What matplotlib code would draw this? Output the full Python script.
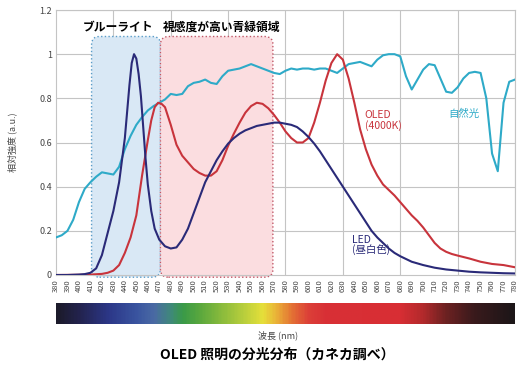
import numpy as np
import matplotlib
matplotlib.use('Agg')
import matplotlib.pyplot as plt
from matplotlib.patches import FancyBboxPatch
from matplotlib.colors import LinearSegmentedColormap

plt.rcParams['font.family'] = ['Noto Sans CJK JP', 'DejaVu Sans']

# natural light (自然光)
sun_nm = list(range(380, 781, 5))
sun_val = [0.17, 0.18, 0.20, 0.25, 0.33, 0.39, 0.42, 0.445, 0.465, 0.46,
           0.455, 0.49, 0.57, 0.63, 0.68, 0.715, 0.745, 0.765, 0.78, 0.795,
           0.82, 0.815, 0.82, 0.855, 0.87, 0.875, 0.885, 0.87, 0.865, 0.90,
           0.925, 0.93, 0.935, 0.945, 0.955, 0.945, 0.935, 0.925, 0.915, 0.91,
           0.925, 0.935, 0.93, 0.935, 0.935, 0.93, 0.935, 0.935, 0.925, 0.915,
           0.935, 0.955, 0.96, 0.965, 0.955, 0.945, 0.975, 0.995, 1.0, 1.0,
           0.99, 0.90, 0.84, 0.885, 0.93, 0.955, 0.95, 0.89, 0.83, 0.825,
           0.85, 0.89, 0.915, 0.92, 0.915, 0.80, 0.55, 0.47, 0.78, 0.875,
           0.885]

# LED (昼白色)
led_nm = [380, 390, 400, 405, 410, 415, 420, 425, 430, 435, 440, 442, 444, 446, 448,
          450, 452, 454, 456, 458, 460, 463, 466, 470, 475, 480, 485, 490, 495, 500,
          505, 510, 515, 520, 525, 530, 535, 540, 545, 550, 555, 560, 565, 570, 575,
          580, 585, 590, 595, 600, 605, 610, 615, 620, 625, 630, 635, 640, 645, 650,
          655, 660, 665, 670, 675, 680, 690, 700, 710, 720, 730, 740, 750, 760, 770, 780]
led_val = [0.0, 0.0, 0.002, 0.004, 0.01, 0.03, 0.09, 0.19, 0.29, 0.42, 0.62, 0.74, 0.86, 0.96, 1.0,
           0.98, 0.91, 0.81, 0.67, 0.53, 0.41, 0.29, 0.21, 0.16, 0.13, 0.12, 0.125, 0.16, 0.21, 0.28,
           0.35, 0.42, 0.47, 0.52, 0.56, 0.595, 0.62, 0.64, 0.655, 0.665, 0.675, 0.68, 0.685, 0.69, 0.69,
           0.685, 0.68, 0.67, 0.65, 0.625, 0.595, 0.56, 0.52, 0.48, 0.44, 0.40, 0.36, 0.32, 0.28, 0.24,
           0.20, 0.17, 0.145, 0.12, 0.10, 0.085, 0.06, 0.045, 0.033, 0.025, 0.02, 0.015, 0.012, 0.01, 0.008, 0.007]

# OLED (4000K)
oled_nm = [380, 400, 410, 420, 425, 430, 435, 440, 445, 450, 455, 460, 463, 466, 469,
           472, 475, 480, 485, 490, 495, 500, 505, 510, 515, 520, 525, 530, 535, 540,
           545, 550, 555, 560, 565, 570, 575, 580, 585, 590, 595, 600, 605, 610,
           615, 620, 625, 630, 635, 640, 645, 650, 655, 660, 665, 670, 675, 680,
           685, 690, 695, 700, 705, 710, 715, 720, 725, 730, 740, 750, 760, 770, 780]
oled_val = [0.0, 0.001, 0.002, 0.005, 0.01, 0.02, 0.045, 0.10, 0.17, 0.27, 0.45, 0.61, 0.70, 0.76, 0.78,
            0.775, 0.76, 0.68, 0.59, 0.54, 0.51, 0.48, 0.462, 0.45, 0.45, 0.47, 0.52, 0.585, 0.64, 0.69,
            0.735, 0.765, 0.78, 0.775, 0.755, 0.725, 0.69, 0.65, 0.62, 0.60, 0.60, 0.62, 0.69, 0.78,
            0.88, 0.96, 1.0, 0.975, 0.89, 0.78, 0.66, 0.57, 0.50, 0.45, 0.41, 0.385, 0.36, 0.33,
            0.30, 0.27, 0.245, 0.215, 0.18, 0.145, 0.12, 0.105, 0.095, 0.088, 0.075, 0.06, 0.05, 0.045, 0.035]

# colour bar under the chart
spec_nm = [380, 400, 425, 450, 465, 480, 490, 505, 525, 545, 560, 572, 585, 600, 615, 680, 700, 720, 745, 780]
spec_col = ['#1c1b2a', '#23234f', '#2c3788', '#3a55a0', '#4a6aa4', '#3f8a78', '#3a9a48', '#5aa83e',
            '#8cbc3c', '#bcd03c', '#e6e03a', '#eab238', '#e47434', '#dc4038', '#d83036', '#d82e34',
            '#b42a2c', '#6e2222', '#3a1a1c', '#1c1618']

xtick_nm = list(range(380, 781, 10))
ytick_val = [0, 0.2, 0.4, 0.6, 0.8, 1.0, 1.2]
ytick_lbl = ['0', '0.2', '0.4', '0.6', '0.8', '1', '1.2']
grid_nm = list(range(430, 781, 50))

fig = plt.figure(figsize=(5.31, 3.70), dpi=100)
ax = fig.add_axes([56/531, 95/370, 459/531, 265/370])

ax.set_xlim(380, 780)
ax.set_ylim(0, 1.2)

for g in grid_nm:
    ax.axvline(g, color='#c4c4c4', lw=0.8, zorder=0)
for v in ytick_val[1:]:
    ax.axhline(v, color='#c4c4c4', lw=0.8, zorder=0)

# shaded regions
asp = 0.036 / 7
blue = FancyBboxPatch((411, -0.01), 60, 1.09, boxstyle='round,pad=0,rounding_size=7',
                      mutation_aspect=asp, facecolor='#d9e8f5', edgecolor='#5a9cc8',
                      lw=1.0, ls=':', zorder=1, clip_on=False)
pink = FancyBboxPatch((471, -0.01), 98, 1.09, boxstyle='round,pad=0,rounding_size=7',
                      mutation_aspect=asp, facecolor='#fbdde0', edgecolor='#c05868',
                      lw=1.0, ls=':', zorder=1, clip_on=False)
ax.add_patch(blue)
ax.add_patch(pink)

ax.plot(sun_nm, sun_val, color='#2eaac8', lw=1.5, zorder=3)
ax.plot(oled_nm, oled_val, color='#c8343c', lw=1.5, zorder=4)
ax.plot(led_nm, led_val, color='#2a2a78', lw=1.5, zorder=5)

ax.text(403, 1.12, 'ブルーライト', fontsize=8.5, fontweight='bold', ha='left', va='center')
ax.text(473, 1.12, '視感度が高い青緑領域', fontsize=8.5, fontweight='bold', ha='left', va='center')

ax.text(735, 0.73, '自然光', fontsize=7.5, color='#2eaac8', ha='center', va='center')
ax.text(649, 0.70, 'OLED\n(4000K)', fontsize=7.5, color='#c8343c', ha='left', va='center', linespacing=1.0)
ax.text(638, 0.136, 'LED\n(昼白色)', fontsize=7.5, color='#2a2a78', ha='left', va='center', linespacing=1.0)

ax.set_xticks(xtick_nm)
ax.set_xticklabels([str(t) for t in xtick_nm], rotation=90, fontsize=5.5, color='#444444')
ax.set_yticks(ytick_val)
ax.set_yticklabels(ytick_lbl, fontsize=6.5, color='#444444')
ax.tick_params(length=0, pad=3)
ax.set_ylabel('相対強度 (a.u.)', fontsize=6.5, color='#444444', labelpad=16)
for s in ax.spines.values():
    s.set_color('#c4c4c4')
    s.set_linewidth(0.8)

# spectrum strip
sax = fig.add_axes([56/531, 46/370, 459/531, 21/370])
cmap = LinearSegmentedColormap.from_list(
    'spec', [((n - 380) / 400, c) for n, c in zip(spec_nm, spec_col)])
sax.imshow(np.linspace(0, 1, 400)[None, :], cmap=cmap, aspect='auto', extent=[380, 780, 0, 1])
sax.set_axis_off()

fig.text(278/531, 1 - 335/370, '波長 (nm)', fontsize=6.5, color='#444444', ha='center', va='center')
fig.text(277/531, 1 - 355/370, 'OLED 照明の分光分布（カネカ調べ）', fontsize=10, fontweight='bold',
         ha='center', va='center')

fig.savefig('out.png', dpi=100)
